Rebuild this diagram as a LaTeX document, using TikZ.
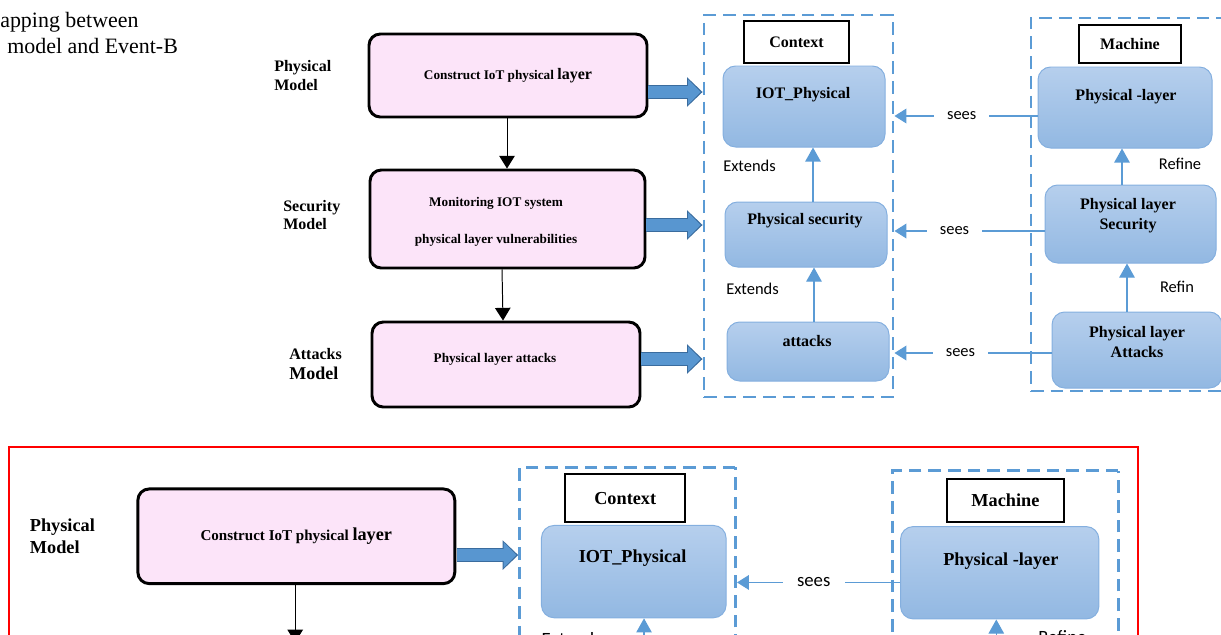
\documentclass[tikz,border=0pt]{standalone}
\usepackage{fontspec}
\setmainfont{Liberation Serif}
\newfontfamily\calibri{Carlito}
\usetikzlibrary{arrows.meta}

\newlength\px
\setlength\px{0.025cm}

\definecolor{pinkfill}{RGB}{252,228,249}
\definecolor{boxtop}{RGB}{182,207,237}
\definecolor{boxbottom}{RGB}{146,184,226}
\definecolor{boxedge}{RGB}{132,175,223}
\definecolor{dashblue}{RGB}{91,155,213}
\definecolor{arrowfill}{RGB}{88,150,208}
\definecolor{arrowedge}{RGB}{58,108,158}

% first row of the mapping figure (also shown in the enlarged copy), pixel units
\newcommand\mappingtop{%
  \node[sidelabel] (physlabel) at (274,75.5) {Physical\\Model};
  % model boxes
  \node[pinkbox, minimum width=278*\px, minimum height=83*\px] (phys) at (508,75.5) {Construct IoT physical {\fontsize{11.4pt}{13pt}\selectfont layer}};
  \node[pinkbox, minimum width=275*\px, minimum height=98*\px] (sec) at (507.5,219) {};
  \draw[flow] (phys.south -| 507,0) -- (sec.north -| 507,0);
  % Event-B frames
  \node[frame, minimum width=189*\px, minimum height=382*\px] (ctx) at (798.5,206) {};
  \node[frame, minimum width=198*\px, minimum height=373*\px] (mach) at (1130,204.5) {};
  \node[namebox, minimum width=105*\px, minimum height=42*\px] (ctxname) at (796.5,42) {Context};
  \node[namebox, minimum width=102*\px, minimum height=38*\px] (machname) at (1130,44) {Machine};
  % contexts and machines
  \node[bluebox, minimum width=162*\px, minimum height=81*\px] (cphys) at (804,106.5) {};
  \node[bluebox, minimum width=162*\px, minimum height=65*\px] (csec) at (806,234.5) {};
  \node[bluebox, minimum width=174*\px, minimum height=81*\px] (mphys) at (1125,107.5) {};
  \node[bluebox, minimum width=171*\px, minimum height=78*\px] (msec) at (1130.5,224) {};
  \node[boxtext] (cphys-t) at (803,95) {IOT\_Physical};
  \node[boxtext] (mphys-t) at (1126,97) {Physical -layer};
  \draw[blockarrow] (phys.east |- 0,92) -- (ctx.west |- 0,92);
  \draw[ext] (csec.north -| 813,0) -- (cphys.south -| 813,0);
  \draw[ext] (msec.north -| 1122,0) -- (mphys.south -| 1122,0);
  \node[linktext, anchor=west] (ext1) at (723,166) {Extends};
  \node[linktext] (ref1) at (1180,164) {Refine};
  \draw[sees] (mphys.west |- 0,116) -- node[seestext, pos=0.53] (sees1) {sees} (ctx.east |- 0,116);
}

% lower rows
\newcommand\mappingrest{%
  \node[sidelabel] (seclabel) at (283,215) {Security\\Model};
  \node[sidelabel] (attlabel) at (289,364) {Attacks\\[1pt]{\fontsize{12.8pt}{15pt}\selectfont Model}};
  \node[pinktext] (sec-t) at (496,222) {Monitoring IOT system\\[15pt]physical layer vulnerabilities};
  \node[pinkbox, minimum width=268*\px, minimum height=85*\px] (att) at (506,364.5) {};
  \node[pinktext] (att-t) at (495,359) {Physical layer attacks};
  \draw[flow] (sec.south -| 502,0) -- (att.north -| 503,0);
  \node[bluebox, minimum width=162*\px, minimum height=59*\px] (catt) at (808,351.5) {};
  \node[bluebox, minimum width=170*\px, minimum height=76*\px] (matt) at (1137,350) {};
  \node[boxtext] (csec-t) at (805,221) {Physical security};
  \node[boxtext] (catt-t) at (807,341) {attacks};
  \node[boxtext] (msec-t) at (1128,216) {Physical layer\\Security};
  \node[boxtext] (matt-t) at (1137,342) {Physical layer\\Attacks};
  \draw[blockarrow] (sec.east |- 0,225) -- (ctx.west |- 0,225);
  \draw[blockarrow] (att.east |- 0,359) -- (ctx.west |- 0,359);
  \draw[ext] (catt.north -| 814,0) -- (csec.south -| 814,0);
  \draw[ext] (matt.north -| 1127,0) -- (msec.south -| 1127,0);
  \node[linktext, anchor=west] (ext2) at (726,289) {Extends};
  \node[linktext] (ref2) at (1177,287) {Refin};
  \draw[sees] (msec.west |- 0,231) -- node[seestext, pos=0.6] (sees2) {sees} (ctx.east |- 0,231);
  \draw[sees] (matt.west |- 0,353) -- node[seestext, pos=0.58] (sees3) {sees} (ctx.east |- 0,353);
}

\begin{document}
\begin{tikzpicture}[
    x=0.025cm, y=-0.025cm,
    sidelabel/.style={anchor=west, align=left, inner sep=0pt,
        font=\fontsize{11.4pt}{13.5pt}\selectfont\bfseries},
    pinkbox/.style={draw, line width=2.1pt, rounded corners=8pt, fill=pinkfill,
        align=center, font=\fontsize{9.4pt}{11.5pt}\selectfont\bfseries},
    pinktext/.style={inner sep=0pt, align=center,
        font=\fontsize{9.4pt}{11.5pt}\selectfont\bfseries},
    frame/.style={draw=dashblue, line width=2.1pt, dash pattern=on 9pt off 5pt},
    namebox/.style={draw, line width=1.4pt, fill=white,
        font=\fontsize{11.4pt}{13pt}\selectfont\bfseries},
    bluebox/.style={draw=boxedge, line width=0.7pt, rounded corners=9pt,
        top color=boxtop, bottom color=boxbottom},
    boxtext/.style={inner sep=0pt, align=center,
        font=\fontsize{11.4pt}{14.2pt}\selectfont\bfseries},
    linktext/.style={inner sep=0pt, font=\calibri\fontsize{11.7pt}{13pt}\selectfont},
    seestext/.style={fill=white, inner xsep=9pt, inner ysep=1pt,
        font=\calibri\fontsize{11.7pt}{13pt}\selectfont},
    flow/.style={line width=0.7pt, -{Triangle[length=9pt, width=11pt]}},
    ext/.style={draw=dashblue, line width=0.8pt, -{Triangle[length=10pt, width=11pt]}},
    sees/.style={draw=dashblue, line width=0.8pt, -{Triangle[length=8.5pt, width=10.5pt]}},
    blockarrow/.style={draw=arrowedge, line width=10pt,
        -{Triangle[length=11pt, width=21pt, line width=0pt]},
        postaction={draw=arrowfill, line width=8.4pt, shorten >=1.3pt,
            -{Triangle[length=9pt, width=18pt, line width=0pt]}}},
    titletext/.style={anchor=base west, inner sep=0pt,
        font=\fontsize{15.6pt}{18pt}\selectfont}
]
\useasboundingbox (0,0) rectangle (1221,634);

\node[titletext] (title1) at (0,27) {apping between};
\node[titletext] (title2) at (7,53) {model and Event-B};

\mappingtop
\mappingrest

% enlarged copy in the red frame
\begin{scope}
    \clip (10,448) rectangle (1137,634);
    \begin{scope}[shift={(-282.8,450.2)}, scale=1.14, transform shape]
        \mappingtop
    \end{scope}
\end{scope}
\draw[red, line width=2.1pt] (9,447) rectangle (1138,660);
\end{tikzpicture}
\end{document}
